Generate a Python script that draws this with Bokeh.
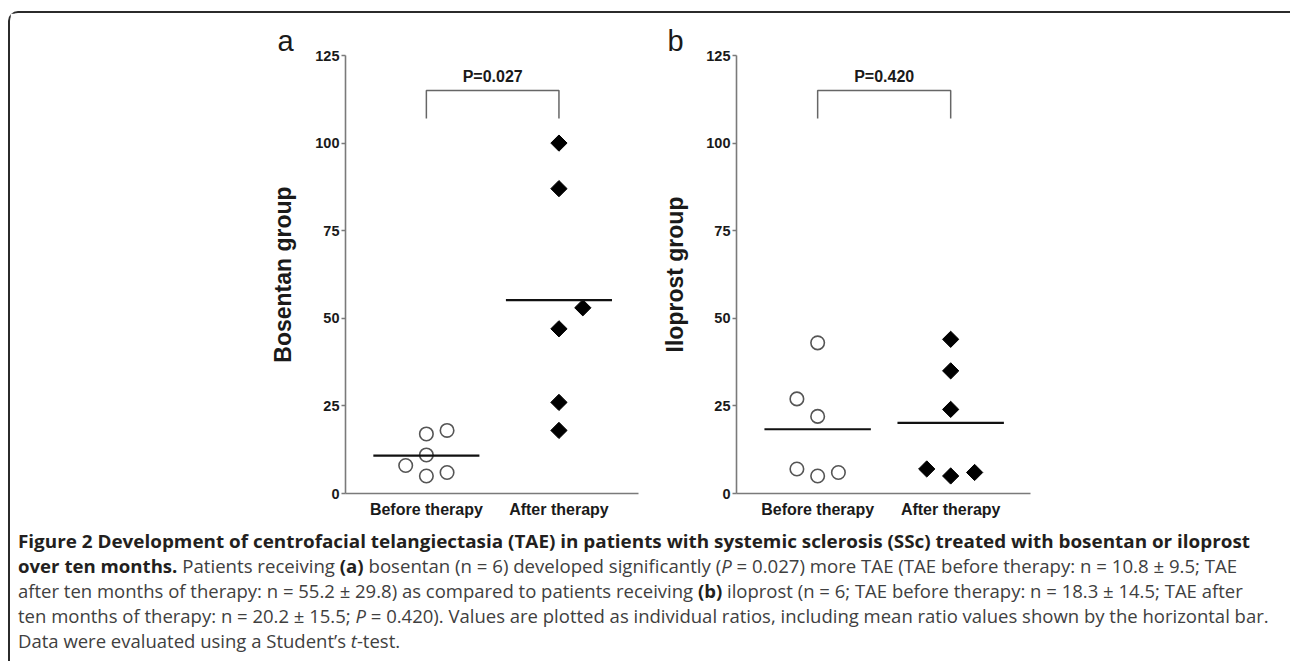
import numpy as np
from bokeh.plotting import figure
from bokeh.models import FixedTicker, Div
from bokeh.layouts import row, column
from bokeh.embed import file_html
from bokeh.resources import INLINE
from bokeh.core.properties import value

# ---------------- data ----------------
categories = ["Before therapy", "After therapy"]
cat_pos = [1, 2]
y_ticks = [0, 25, 50, 75, 100, 125]

bosentan_before = [17, 18, 11, 8, 5, 6]
bosentan_after = [100, 87, 53, 47, 26, 18]
iloprost_before = [43, 27, 22, 7, 5, 6]
iloprost_after = [44, 35, 24, 7, 5, 6]

p_values = ["P=0.027", "P=0.420"]
panel_letters = ["a", "b"]
y_labels = ["Bosentan group", "Iloprost group"]

# horizontal spread of the individual points around each category
bosentan_before_dx = [0, 0.156, 0, -0.156, 0, 0.156]
bosentan_after_dx = [0, 0, 0.18, 0, 0, 0]
iloprost_before_dx = [0, -0.156, 0, -0.156, 0, 0.156]
iloprost_after_dx = [0, 0, 0, -0.18, 0, 0.18]

# ---------------- style ----------------
FONT = "Liberation Sans"
AXIS_COL = "#7a7a7a"
TXT = "#1a1a1a"
MEAN_HALF = 0.4
BRACKET_Y = 115
BRACKET_DROP = 8


def make_panel(before, after, dx_b, dx_a, letter, ylabel, ptext, width, left, right,
               label_standoff, letter_offset):
    p = figure(width=width, height=510, x_range=(0.39, 2.6), y_range=(0, 125),
               output_backend="svg", toolbar_location=None,
               min_border_left=left, min_border_right=right,
               min_border_top=42, min_border_bottom=30)
    p.outline_line_color = None
    p.grid.visible = False
    p.background_fill_color = "white"
    p.border_fill_color = "white"

    # panel letter as the title
    p.title.text = letter
    p.title.text_font = FONT
    p.title.text_font_style = "normal"
    p.title.text_font_size = "29px"
    p.title.text_color = TXT
    p.title.align = "left"
    p.title.offset = letter_offset
    p.title.standoff = -3

    # y axis
    ya = p.yaxis[0]
    ya.ticker = FixedTicker(ticks=y_ticks)
    ya.axis_line_color = AXIS_COL
    ya.axis_line_width = 1.6
    ya.major_tick_line_color = AXIS_COL
    ya.major_tick_line_width = 1.4
    ya.major_tick_out = 4
    ya.major_tick_in = 0
    ya.minor_tick_line_color = None
    ya.major_label_text_font = FONT
    ya.major_label_text_font_style = "bold"
    ya.major_label_text_font_size = "14.5px"
    ya.major_label_text_color = TXT
    ya.major_label_standoff = 2
    ya.axis_label = ylabel
    ya.axis_label_text_font = FONT
    ya.axis_label_text_font_style = "bold"
    ya.axis_label_text_font_size = "23px"
    ya.axis_label_text_color = TXT
    ya.axis_label_standoff = label_standoff

    # x axis
    xa = p.xaxis[0]
    xa.ticker = FixedTicker(ticks=cat_pos)
    xa.major_label_overrides = {c: t for c, t in zip(cat_pos, categories)}
    xa.axis_line_color = AXIS_COL
    xa.axis_line_width = 1.6
    xa.major_tick_line_color = None
    xa.minor_tick_line_color = None
    xa.major_label_text_font = FONT
    xa.major_label_text_font_style = "bold"
    xa.major_label_text_font_size = "16px"
    xa.major_label_text_color = TXT
    xa.major_label_standoff = 1

    xb = [cat_pos[0] + d for d in dx_b]
    xaft = [cat_pos[1] + d for d in dx_a]
    p.scatter(xb, before, marker="circle", size=13.5, fill_color="white",
              line_color="#555555", line_width=1.6)
    p.scatter(xaft, after, marker="square", angle=np.pi / 4, size=11.5,
              fill_color="black", line_color="black")

    means = [float(np.mean(before)), float(np.mean(after))]
    p.segment(x0=[c - MEAN_HALF for c in cat_pos], x1=[c + MEAN_HALF for c in cat_pos],
              y0=means, y1=means, line_color="#111111", line_width=2.2)

    # significance bracket
    p.line([cat_pos[0], cat_pos[0], cat_pos[1], cat_pos[1]],
           [BRACKET_Y - BRACKET_DROP, BRACKET_Y, BRACKET_Y, BRACKET_Y - BRACKET_DROP],
           line_color="#666666", line_width=1.5)
    p.text(x=[sum(cat_pos) / 2], y=[BRACKET_Y + 4], text=[ptext],
           text_font=value(FONT), text_font_style="bold", text_font_size="16px",
           text_color=TXT, text_align="center", text_baseline="middle")
    return p


pa = make_panel(bosentan_before, bosentan_after, bosentan_before_dx, bosentan_after_dx,
                panel_letters[0], y_labels[0], p_values[0], 631, 335, 3, 16, -68)
pb = make_panel(iloprost_before, iloprost_after, iloprost_before_dx, iloprost_after_dx,
                panel_letters[1], y_labels[1], p_values[1], 640, 95, 251, 15, -69)

B = "color:#231f20;font-weight:700;"
lines = [
    (1.02, f"<span style='{B}'>Figure 2 Development of centrofacial telangiectasia (TAE) in patients with systemic sclerosis (SSc) treated with bosentan or iloprost</span>"),
    (1.006, f"<span style='{B}'>over ten months.</span> Patients receiving <span style='{B}'>(a)</span> bosentan (n = 6) developed significantly (<i>P</i> = 0.027) more TAE (TAE before therapy: n = 10.8 ± 9.5; TAE"),
    (1.0, f"after ten months of therapy: n = 55.2 ± 29.8) as compared to patients receiving <span style='{B}'>(b)</span> iloprost (n = 6; TAE before therapy: n = 18.3 ± 14.5; TAE after"),
    (1.0, "ten months of therapy: n = 20.2 ± 15.5; <i>P</i> = 0.420). Values are plotted as individual ratios, including mean ratio values shown by the horizontal bar."),
    (1.0, "Data were evaluated using a Student’s <i>t</i>-test."),
]
html = "".join(
    f"<div style=\"white-space:nowrap;transform:scaleX({s});transform-origin:0 0;height:25px;line-height:25px;\">{t}</div>"
    for s, t in lines)
cap = Div(text=f"<div style=\"font-family:'Open Sans';font-size:18.5px;color:#404040;padding-left:3px;padding-top:0px;\">{html}</div>",
          width=1271, height=128)

layout = column(row(pa, pb), cap, margin=(11, 0, 0, 8),
                styles={"border-top": "2px solid #2b2b2b", "border-left": "2px solid #2b2b2b",
                        "border-top-left-radius": "10px", "background": "white"})

open("out.html", "w").write(file_html(layout, INLINE))
